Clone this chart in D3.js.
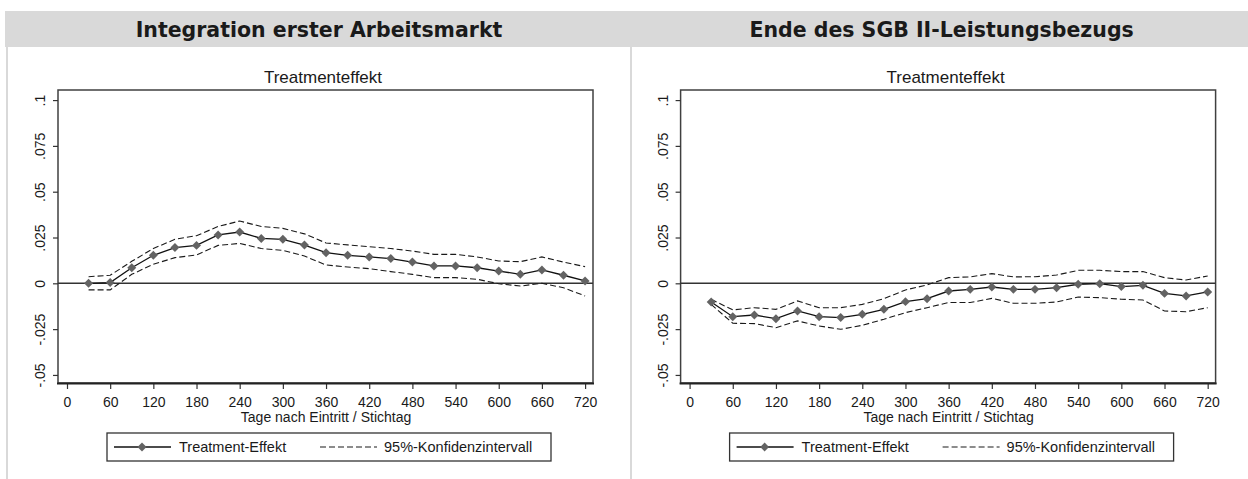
<!DOCTYPE html>
<html>
<head>
<meta charset="utf-8">
<script src="https://cdn.jsdelivr.net/npm/d3@7"></script>
<style>
	body { margin: 0; background: #fff; }
	text { font-family: "Liberation Sans", Arial, sans-serif; fill: #1a1a1a; }
</style>
</head>
<body>
<script>
// days after entry (x values of the points)
var days = [30, 60, 90, 120, 150, 180, 210, 240, 270, 300, 330, 360, 390, 420, 450, 480, 510, 540, 570, 600, 630, 660, 690, 720];
var xTicks = [0, 60, 120, 180, 240, 300, 360, 420, 480, 540, 600, 660, 720];
var yTicks = [-0.05, -0.025, 0, 0.025, 0.05, 0.075, 0.1];
var yTickLabels = ["-.05", "-.025", "0", ".025", ".05", ".075", ".1"];

// left panel: Integration erster Arbeitsmarkt
var arbEffekt = [0.000, 0.0004, 0.0085, 0.0153, 0.0195, 0.0207, 0.0264, 0.0280, 0.0245, 0.0240, 0.0209, 0.0167,
	0.0153, 0.0144, 0.0135, 0.0116, 0.0095, 0.0095, 0.0085, 0.0067, 0.0049, 0.0073, 0.0044, 0.0013];
var arbOben = [0.0036, 0.0044, 0.0120, 0.0190, 0.0240, 0.0260, 0.0310, 0.0340, 0.0310, 0.0300, 0.0270, 0.0220,
	0.0210, 0.0200, 0.0190, 0.0176, 0.0158, 0.0158, 0.0144, 0.0122, 0.0118, 0.0144, 0.0116, 0.0091];
var arbUnten = [-0.0036, -0.0036, 0.0049, 0.0104, 0.0140, 0.0155, 0.0207, 0.0218, 0.0190, 0.0180, 0.0149, 0.0100,
	0.0089, 0.0080, 0.0064, 0.0049, 0.0031, 0.0031, 0.0022, -0.0002, -0.0015, 0.0000, -0.0024, -0.0069];

// right panel: Ende des SGB II-Leistungsbezugs
var sgbEffekt = [-0.0102, -0.0182, -0.0173, -0.0193, -0.0151, -0.0182, -0.0187, -0.0169, -0.0142, -0.0100, -0.0084, -0.0042,
	-0.0033, -0.0020, -0.0033, -0.0033, -0.0024, -0.0005, -0.0002, -0.0018, -0.0011, -0.0055, -0.0069, -0.0047];
var sgbOben = [-0.0087, -0.0145, -0.0133, -0.0142, -0.0096, -0.0133, -0.0133, -0.0115, -0.0084, -0.0036, -0.0009, 0.0031,
	0.0035, 0.0053, 0.0035, 0.0036, 0.0045, 0.0071, 0.0071, 0.0064, 0.0064, 0.0031, 0.0018, 0.0040];
var sgbUnten = [-0.0115, -0.0218, -0.0220, -0.0242, -0.0205, -0.0233, -0.0251, -0.0229, -0.0196, -0.0160, -0.0133, -0.0105,
	-0.0105, -0.0082, -0.0109, -0.0109, -0.0102, -0.0075, -0.0078, -0.0087, -0.0091, -0.0151, -0.0155, -0.0133];

var WIDTH = 1248;
var HEIGHT = 479;
var PANEL_SHIFT = 622.6;

var svg = d3.select("body").append("svg")
	.attr("width", WIDTH)
	.attr("height", HEIGHT);

// grey header band across both panels
svg.append("rect")
	.attr("x", 5).attr("y", 11)
	.attr("width", WIDTH - 5).attr("height", 36)
	.attr("fill", "#d9d9d9");

// panel borders
[7, 631].forEach(function (px) {
	svg.append("line")
		.attr("x1", px).attr("x2", px)
		.attr("y1", 47).attr("y2", HEIGHT)
		.attr("stroke", "#d9d9d9").attr("stroke-width", 2);
});

var diamond = d3.symbol().type(d3.symbolSquare).size(40);

function drawPanel(dx, header, effekt, oben, unten) {
	var g = svg.append("g");

	var x = d3.scaleLinear().domain([-12.5, 731]).range([58 + dx, 593 + dx]);
	var y = d3.scaleLinear().domain([-0.0544, 0.1055]).range([383, 90]);

	g.append("text")
		.attr("x", 319 + dx).attr("y", 36.5)
		.attr("text-anchor", "middle")
		.style("font-family", "'DejaVu Sans', Verdana, sans-serif")
		.style("font-weight", "bold")
		.style("font-size", "20.5px")
		.text(header);

	g.append("text")
		.attr("x", 323 + dx).attr("y", 83)
		.attr("text-anchor", "middle")
		.style("font-size", "17px")
		.text("Treatmenteffekt");

	// plot frame
	g.append("rect")
		.attr("x", x.range()[0]).attr("y", y.range()[1])
		.attr("width", x.range()[1] - x.range()[0])
		.attr("height", y.range()[0] - y.range()[1])
		.attr("fill", "none")
		.attr("stroke", "#404040")
		.attr("stroke-width", 1.5);

	// y axis, labels rotated like Stata
	var yAxis = g.append("g")
		.attr("transform", "translate(" + x.range()[0] + ",0)")
		.call(d3.axisLeft(y).tickValues(yTicks).tickSize(5)
			.tickFormat(function (d, i) { return yTickLabels[i]; }));
	yAxis.select(".domain").remove();
	yAxis.selectAll("line").attr("stroke", "#333").attr("stroke-width", 1.2);
	yAxis.selectAll("text")
		.attr("x", 0).attr("dy", 0)
		.attr("text-anchor", "middle")
		.attr("transform", "translate(-13,0) rotate(-90)")
		.style("font-size", "14px")
		.style("font-family", "'Liberation Sans', Arial, sans-serif")
		.attr("fill", "#1a1a1a");

	// x axis
	var xAxis = g.append("g")
		.attr("transform", "translate(0," + y.range()[0] + ")")
		.call(d3.axisBottom(x).tickValues(xTicks).tickSize(6).tickPadding(8));
	xAxis.select(".domain").remove();
	xAxis.selectAll("line").attr("stroke", "#333").attr("stroke-width", 1.2);
	xAxis.selectAll("text")
		.style("font-size", "14px")
		.style("font-family", "'Liberation Sans', Arial, sans-serif")
		.attr("fill", "#1a1a1a");

	g.append("line")
		.attr("x1", x.range()[0] - 1).attr("x2", x.range()[1] + 1)
		.attr("y1", y.range()[0] + 0.5).attr("y2", y.range()[0] + 0.5)
		.attr("stroke", "#222").attr("stroke-width", 2.2);

	g.append("text")
		.attr("x", (x(0) + x(720)) / 2).attr("y", 422)
		.attr("text-anchor", "middle")
		.style("font-size", "14px")
		.text("Tage nach Eintritt / Stichtag");

	// zero line
	g.append("line")
		.attr("x1", x.range()[0]).attr("x2", x.range()[1])
		.attr("y1", y(0)).attr("y2", y(0))
		.attr("stroke", "#333").attr("stroke-width", 1.5);

	var line = d3.line()
		.x(function (d, i) { return x(days[i]); })
		.y(function (d) { return y(d); });

	[oben, unten].forEach(function (ci) {
		g.append("path")
			.datum(ci)
			.attr("d", line)
			.attr("fill", "none")
			.attr("stroke", "#1a1a1a")
			.attr("stroke-width", 1.1)
			.attr("stroke-dasharray", "6,3");
	});

	g.append("path")
		.datum(effekt)
		.attr("d", line)
		.attr("fill", "none")
		.attr("stroke", "#111")
		.attr("stroke-width", 1.3);

	g.selectAll(".pt")
		.data(effekt)
		.join("path")
		.attr("class", "pt")
		.attr("d", diamond)
		.attr("transform", function (d, i) { return "translate(" + x(days[i]) + "," + y(d) + ") rotate(45)"; })
		.attr("fill", "#636363");

	// legend
	var lg = g.append("g").attr("transform", "translate(" + (107 + dx) + ",433)");
	lg.append("rect")
		.attr("width", 444).attr("height", 28)
		.attr("fill", "#fff")
		.attr("stroke", "#333").attr("stroke-width", 1.3);
	lg.append("line")
		.attr("x1", 7).attr("x2", 64).attr("y1", 14).attr("y2", 14)
		.attr("stroke", "#111").attr("stroke-width", 1.3);
	lg.append("path")
		.attr("d", diamond)
		.attr("transform", "translate(35,14) rotate(45)")
		.attr("fill", "#636363");
	lg.append("text")
		.attr("x", 72).attr("y", 19)
		.style("font-size", "14.5px")
		.text("Treatment-Effekt");
	lg.append("line")
		.attr("x1", 213).attr("x2", 270).attr("y1", 14).attr("y2", 14)
		.attr("stroke", "#1a1a1a").attr("stroke-width", 1.1)
		.attr("stroke-dasharray", "6,3");
	lg.append("text")
		.attr("x", 277).attr("y", 19)
		.style("font-size", "14.5px")
		.text("95%-Konfidenzintervall");
}

drawPanel(0, "Integration erster Arbeitsmarkt", arbEffekt, arbOben, arbUnten);
drawPanel(PANEL_SHIFT, "Ende des SGB II-Leistungsbezugs", sgbEffekt, sgbOben, sgbUnten);
</script>
</body>
</html>
